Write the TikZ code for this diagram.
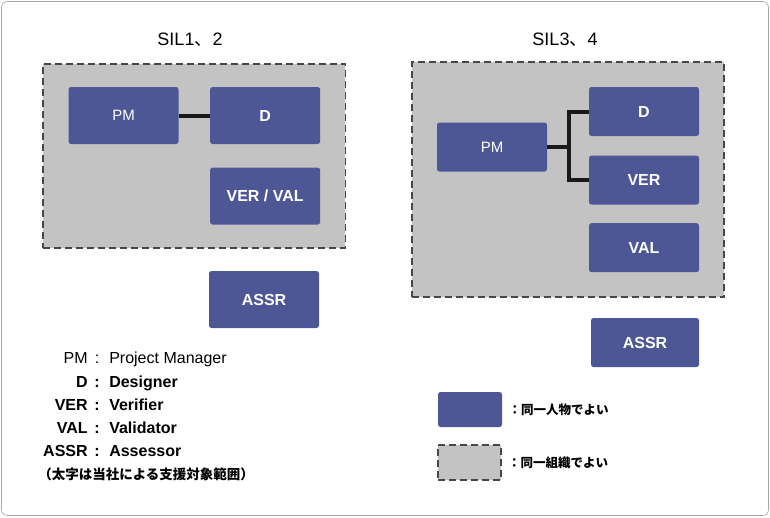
\documentclass[tikz,border=0pt]{standalone}
\usepackage{fontspec}
\setmainfont{Liberation Sans}
\newfontfamily\jp{Noto Sans CJK JP}
\usetikzlibrary{backgrounds, fit}
\usetikzlibrary{positioning}
\usetikzlibrary{calc}
\definecolor{roleblue}{HTML}{4E5796}
\definecolor{orggray}{HTML}{C3C3C3}
\definecolor{dashgray}{HTML}{474747}
\definecolor{framegray}{HTML}{A6A6A6}

\begin{document}
\begin{tikzpicture}[
            x = 1pt, y = -1pt, % pixel units, y downwards
            semithick % line style
        ]

        \tikzstyle{role}=[
            fill = roleblue,
            text = white,
            rounded corners = 2.5pt,
            minimum width = 110pt,
            minimum height = 49pt,
            inner sep = 0pt,
            font = \fontsize{16}{18}\selectfont\bfseries
        ]
        \tikzstyle{org}=[
            fill = orggray,
            draw = dashgray,
            line width = 1.8pt,
            dash pattern = on 7pt off 4pt
        ]
        \tikzstyle{link}=[draw = black!90, line width = 4pt]
        \tikzstyle{title}=[font = \fontsize{18}{21}\selectfont]
        \tikzstyle{legend}=[inner sep = 0pt, font = \fontsize{16}{19}\selectfont]
        \tikzstyle{blegend}=[inner sep = 0pt, font = \fontsize{16}{19}\selectfont\bfseries]

        \useasboundingbox (0,0) rectangle (770,517);
        \draw[framegray, rounded corners = 6pt] (1.5,1.5) rectangle (768.5,515.5);

	% SIL 1, 2
        \node[title] (T1) at (190,40) {SIL1{\jp 、}2};
        \node[role, minimum height = 57pt, font = \fontsize{15}{18}\selectfont] (PM1) at (123.5,115.5) {PM};
        \node[role, minimum height = 57pt] (D1) [right = 31pt of PM1] {D};
        \node[role, minimum height = 57pt] (VV1) [below = 23pt of D1] {VER / VAL};
        \node[role, minimum height = 57pt] (AS1) at (264,299.5) {ASSR};

        \path[link] (PM1) -- (D1);

          \begin{scope}[on background layer]
   	  \node (G1) [org, fit = (PM1) (D1) (VV1), inner xsep = 25pt, inner ysep = 23pt] {};
          \end{scope}

	% SIL 3, 4
        \node[title] (T2) at (565,40) {SIL3{\jp 、}4};
        \node[role, font = \fontsize{15}{18}\selectfont] (PM2) at (492,147) {PM};
        \node[role] (D2) at (644,111.5) {D};
        \node[role] (VER2) [below = 19pt of D2] {VER};
        \node[role] (VAL2) [below = 18pt of VER2] {VAL};
        \node[role, minimum width = 108pt] (AS2) at (645,342.5) {ASSR};

        \coordinate (J) at ($(PM2.east) + (22,0)$);
        \path[link] (PM2.east) -- (J) |- (D2.west);
        \path[link] (J) |- (VER2.west);

          \begin{scope}[on background layer]
   	  \node (G2) [org, fit = (PM2) (D2) (VAL2), inner xsep = 25pt, inner ysep = 24.5pt] {};
          \end{scope}

	% abbreviations
        \node[legend, anchor = base east] (LPM) at (88,363) {PM};
        \node[legend, anchor = base] (CPM) at (97,363) {:};
        \node[legend, anchor = base west] (TPM) at (109,363) {Project Manager};

        \node[blegend, anchor = base east] (LD) at (88,387) {D};
        \node[blegend, anchor = base] (CD) at (97,387) {:};
        \node[blegend, anchor = base west] (TD) at (109,387) {Designer};

        \node[blegend, anchor = base east] (LVER) at (88,410) {VER};
        \node[blegend, anchor = base] (CVER) at (97,410) {:};
        \node[blegend, anchor = base west] (TVER) at (109,410) {Verifier};

        \node[blegend, anchor = base east] (LVAL) at (88,433) {VAL};
        \node[blegend, anchor = base] (CVAL) at (97,433) {:};
        \node[blegend, anchor = base west] (TVAL) at (109,433) {Validator};

        \node[blegend, anchor = base east] (LAS) at (88,456) {ASSR};
        \node[blegend, anchor = base] (CAS) at (97,456) {:};
        \node[blegend, anchor = base west] (TAS) at (109,456) {Assessor};

        \node[legend, anchor = west, font = \jp\fontsize{13.5}{16}\selectfont\bfseries] (NOTE) at (38,474) {（太字は当社による支援対象範囲）};

	% key
        \node[role, minimum width = 64pt, minimum height = 35pt] (KB) at (470,409.5) {};
        \node[legend, anchor = west, font = \jp\fontsize{12.5}{15}\selectfont\bfseries] (KBT) [right = 6pt of KB] {：同一人物でよい};
        \node[org, minimum width = 63pt, minimum height = 35pt, inner sep = 0pt] (KG) at (469.5,462.5) {};
        \node[legend, anchor = west, font = \jp\fontsize{12.5}{15}\selectfont\bfseries] (KGT) [right = 6pt of KG] {：同一組織でよい};

  \end{tikzpicture}
\end{document}
